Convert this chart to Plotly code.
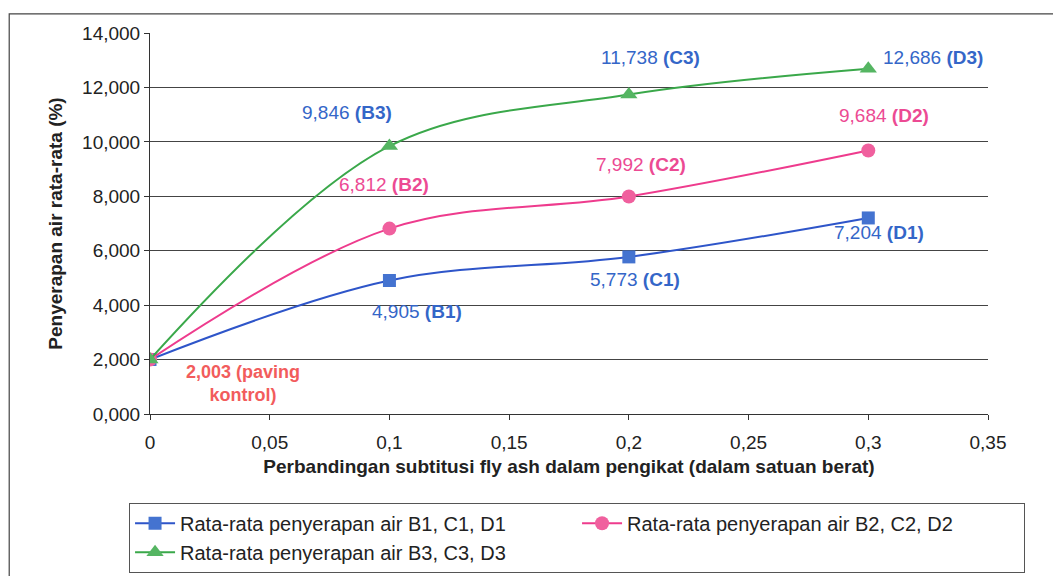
import plotly.graph_objects as go

# Fly ash substitution ratio (by weight of binder)
ratio = [0, 0.1, 0.2, 0.3]

# Average water absorption (%) per mix group
absorp_1 = [2.003, 4.905, 5.773, 7.204]   # B1, C1, D1
absorp_2 = [2.003, 6.812, 7.992, 9.684]   # B2, C2, D2
absorp_3 = [2.003, 9.846, 11.738, 12.686] # B3, C3, D3

codes_1 = ["", "B1", "C1", "D1"]
codes_2 = ["", "B2", "C2", "D2"]
codes_3 = ["", "B3", "C3", "D3"]

names = [
    "Rata-rata penyerapan air B1, C1, D1",
    "Rata-rata penyerapan air B2, C2, D2",
    "Rata-rata penyerapan air B3, C3, D3",
]

FONT = "Liberation Sans, Arial, sans-serif"
BLUE_TXT = "#3466c8"
PINK_TXT = "#ec4a93"
RED_TXT = "#f25c5c"

fig = go.Figure()

styles = [
    (absorp_1, "#2e55c9", "#4473d0", "square", 13),
    (absorp_2, "#ee3b8d", "#f0609e", "circle", 14),
    (absorp_3, "#3aa84a", "#55b562", "triangle-up", 15),
]
for (vals, lc, mc, sym, ms), nm in zip(styles, names):
    fig.add_trace(go.Scatter(
        x=ratio, y=vals, name=nm, mode="lines+markers",
        line=dict(color=lc, width=2, shape="spline", smoothing=1.0),
        marker=dict(symbol=sym, color=mc, size=ms),
    ))


def fmt(v):
    return f"{v:.3f}".replace(".", ",")


# value labels: (x, y, code, colour, xshift, yshift, xanchor)
labels = [
    (ratio[1], absorp_3[1], codes_3[1], BLUE_TXT, -42, 34, "center"),
    (ratio[2], absorp_3[2], codes_3[2], BLUE_TXT, 22, 37, "center"),
    (ratio[3], absorp_3[3], codes_3[3], BLUE_TXT, 13, 11, "left"),
    (ratio[1], absorp_2[1], codes_2[1], PINK_TXT, -5, 44, "center"),
    (ratio[2], absorp_2[2], codes_2[2], PINK_TXT, 12, 32, "center"),
    (ratio[3], absorp_2[3], codes_2[3], PINK_TXT, 16, 35, "center"),
    (ratio[1], absorp_1[1], codes_1[1], BLUE_TXT, 28, -31, "center"),
    (ratio[2], absorp_1[2], codes_1[2], BLUE_TXT, 6, -23, "center"),
    (ratio[3], absorp_1[3], codes_1[3], BLUE_TXT, 11, -15, "center"),
]
for x, y, code, col, xs, ys, xa in labels:
    fig.add_annotation(
        x=x, y=y, xref="x", yref="y", showarrow=False,
        text=f"{fmt(y)} <b>({code})</b>", xshift=xs, yshift=ys, xanchor=xa,
        font=dict(family=FONT, size=19, color=col),
    )

fig.add_annotation(
    x=ratio[0], y=absorp_1[0], xref="x", yref="y", showarrow=False,
    text=f"<b>{fmt(absorp_1[0])} (paving<br>kontrol)</b>",
    xshift=93, yshift=-24, align="center",
    font=dict(family=FONT, size=18, color=RED_TXT),
)

# outer chart frame
fig.add_shape(type="rect", xref="paper", yref="paper",
              x0=-0.168, x1=1.15, y0=-0.55, y1=1.05,
              line=dict(color="#444", width=1.2), fillcolor="rgba(0,0,0,0)")

fig.update_layout(
    width=1053, height=576,
    margin=dict(l=150, r=65, t=33, b=162, autoexpand=False),
    paper_bgcolor="white", plot_bgcolor="white",
    separators=",.",
    font=dict(family=FONT, size=19, color="#222"),
    showlegend=True,
    legend=dict(
        orientation="h", x=-0.025, y=-0.233, xanchor="left", yanchor="top",
        entrywidth=392, entrywidthmode="pixels",
        bordercolor="#555", borderwidth=1, bgcolor="white",
        font=dict(family=FONT, size=20, color="#222"),
        tracegroupgap=0, itemwidth=40,
    ),
    xaxis=dict(
        range=[0, 0.35], tickvals=[0, 0.05, 0.1, 0.15, 0.2, 0.25, 0.3, 0.35],
        showgrid=False, zeroline=False, showline=True, linecolor="#333", linewidth=1,
        ticks="outside", ticklen=5, tickcolor="#333", ticklabelstandoff=6,
        tickfont=dict(family=FONT, size=19, color="#222"),
        title=dict(text="<b>Perbandingan subtitusi fly ash dalam pengikat (dalam satuan berat)</b>",
                   font=dict(family=FONT, size=19, color="#222"), standoff=7),
    ),
    yaxis=dict(
        range=[0, 14], dtick=2, tickformat=".3f",
        showgrid=True, gridcolor="#444", gridwidth=1,
        zeroline=False, showline=True, linecolor="#333", linewidth=1,
        ticks="outside", ticklen=5, tickcolor="#333",
        tickfont=dict(family=FONT, size=19, color="#222"),
        title=dict(text="<b>Penyerapan air rata-rata (%)</b>",
                   font=dict(family=FONT, size=19, color="#222"), standoff=14),
    ),
)

fig.write_html("out.html")
